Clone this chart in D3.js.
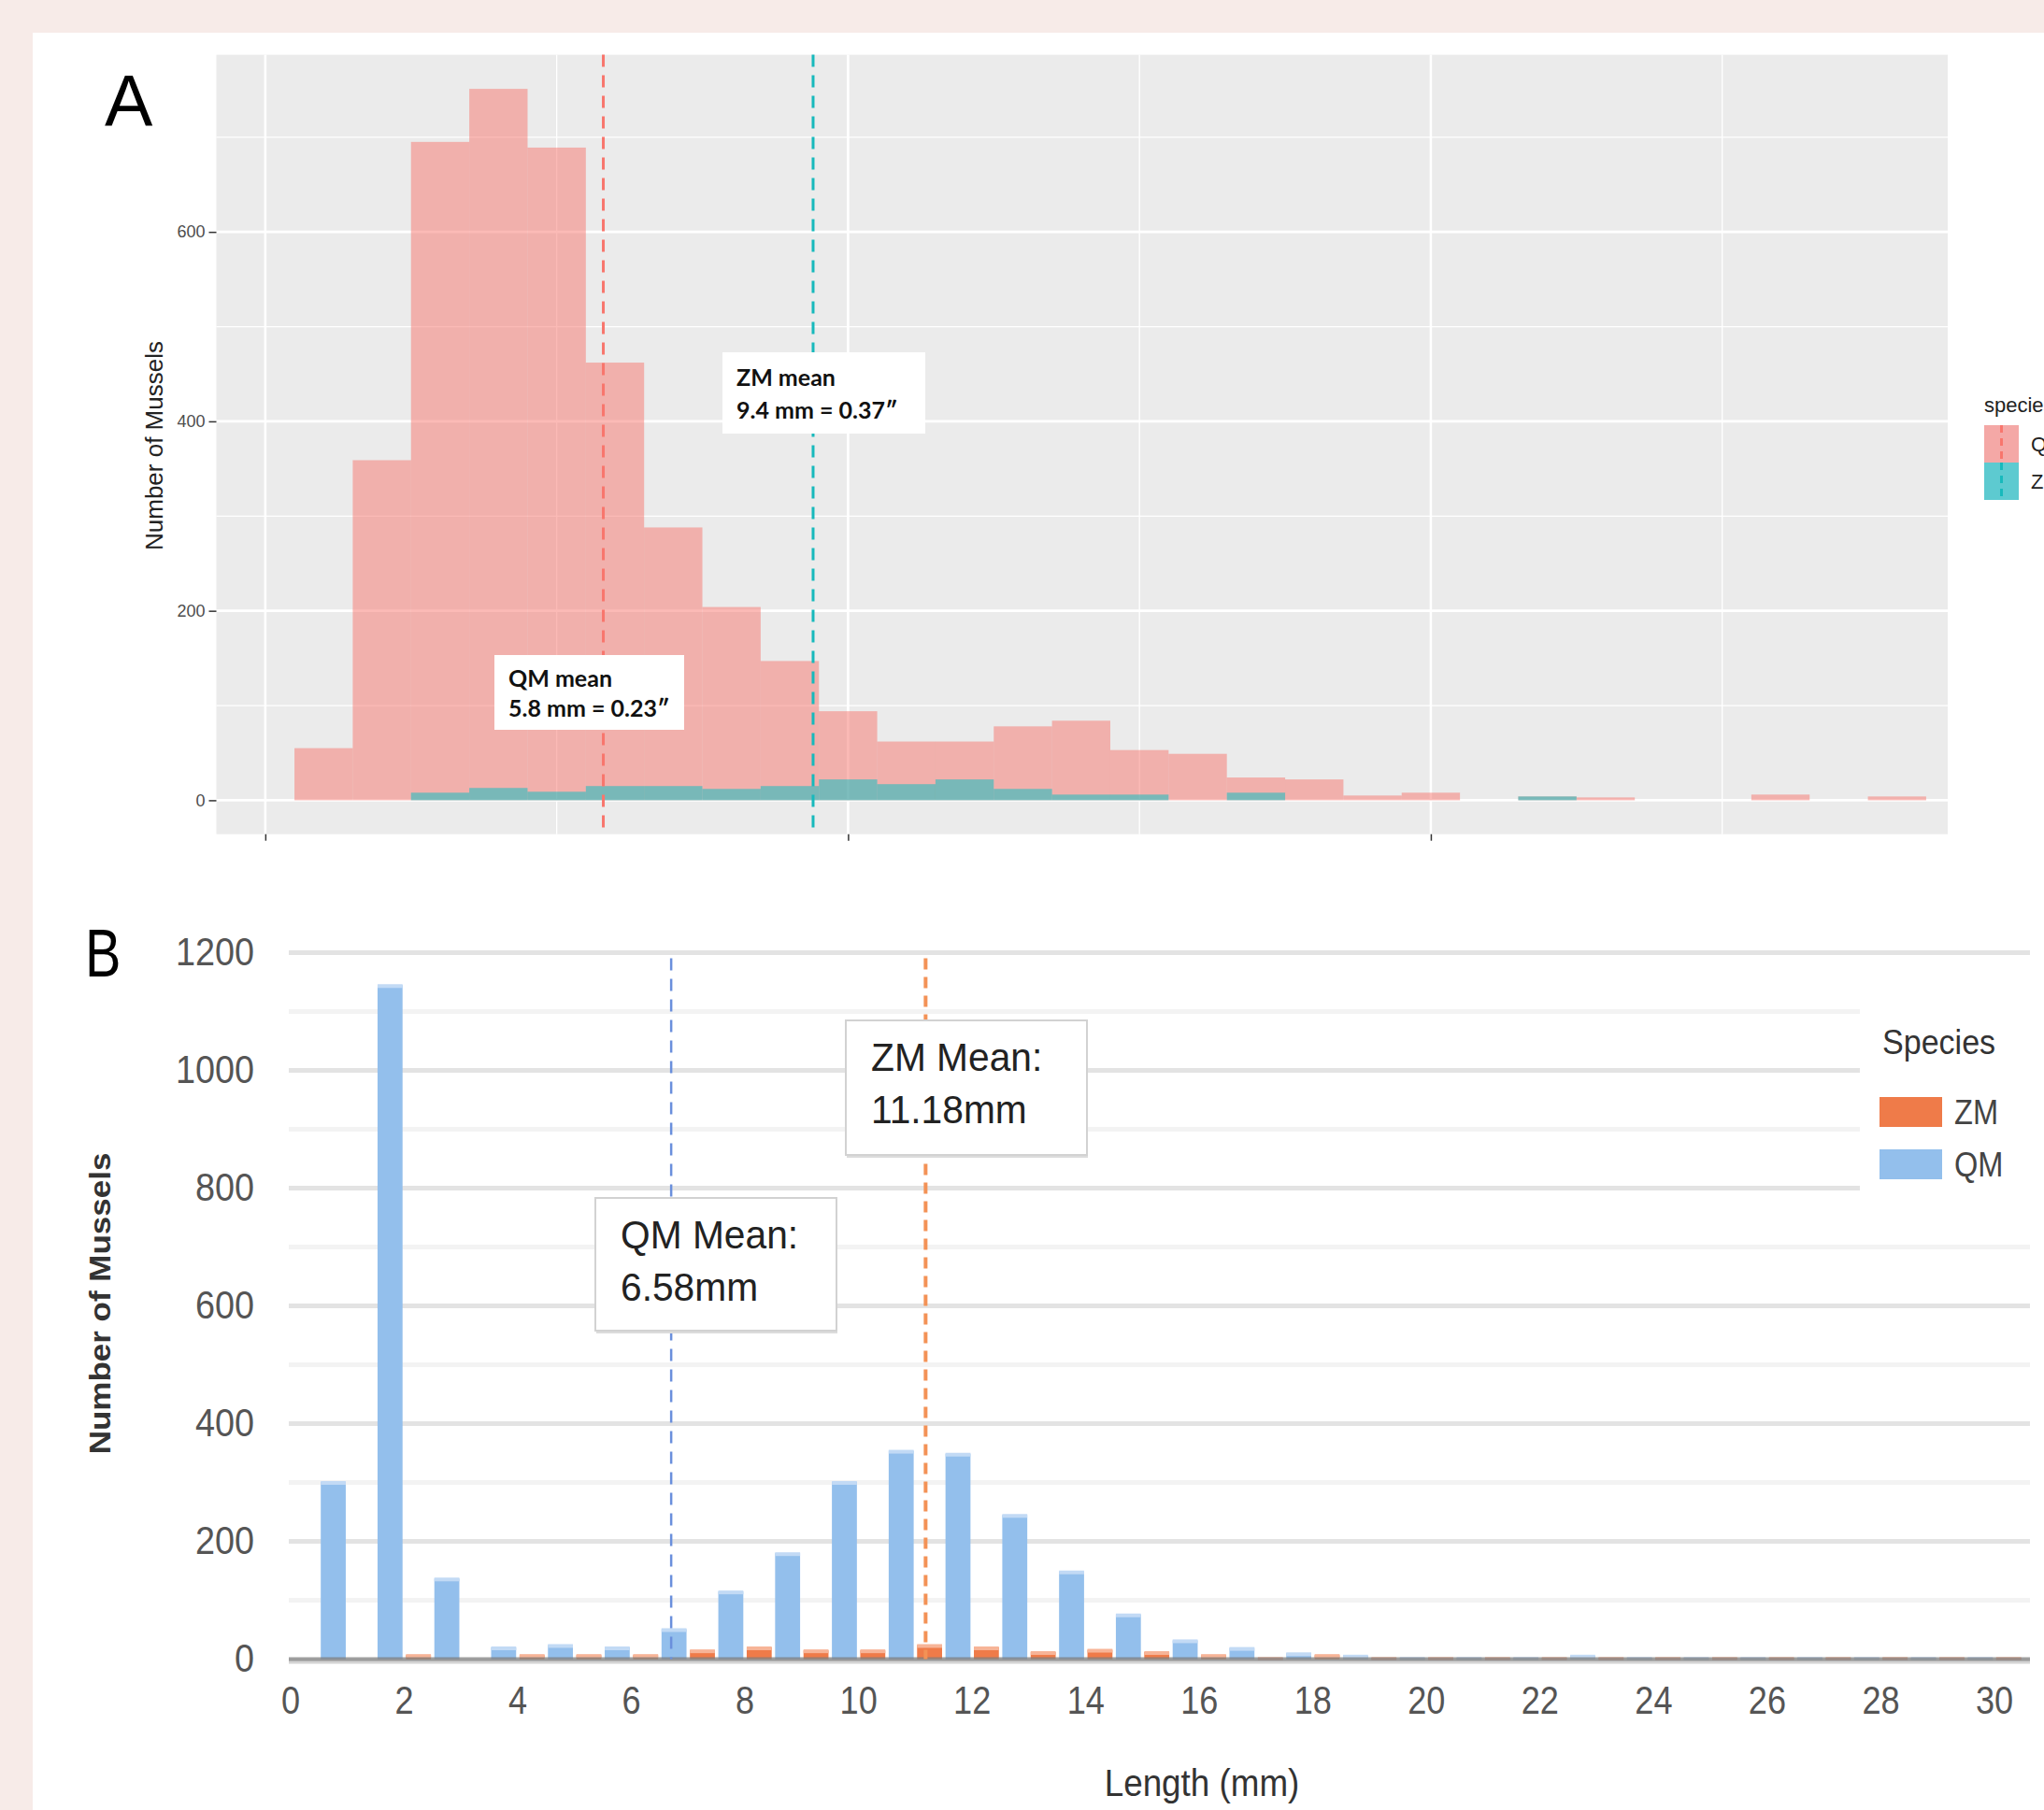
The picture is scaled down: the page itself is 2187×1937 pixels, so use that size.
<!DOCTYPE html>
<html>
<head>
<meta charset="utf-8">
<script src="https://cdn.jsdelivr.net/npm/d3@7"></script>
<style>
  body { margin: 0; background: #f7ebe8; }
  svg { display: block; }
</style>
</head>
<body>
<div id="chart"></div>
<script>
// ---------- Panel A data (ggplot histogram, 1 mm bins) ----------
const binMidA = [1, 2, 3, 4, 5, 6, 7, 8, 9, 10, 11, 12, 13, 14, 15, 16, 17, 18, 19, 20, 21, 22, 23, 24, 25, 26, 27, 28];
const qmCountA = [55, 359, 695, 751, 689, 462, 288, 204, 147, 94, 62, 62, 78, 84, 53, 49, 24, 22, 5, 8, 0, 4, 3, 0, 0, 6, 0, 4];
const zmCountA = [0, 0, 8, 13, 9, 15, 15, 12, 15, 22, 17, 22, 12, 6, 6, 0, 8, 0, 0, 0, 0, 4, 0, 0, 0, 0, 0, 0];
const yTicksA = [0, 200, 400, 600];
const yMinorA = [100, 300, 500, 700];
const xTicksA = [0, 10, 20];
const xMinorA = [5, 15, 25];
const qmMeanA = 5.8, zmMeanA = 9.4;

// ---------- Panel B data (grouped column chart) ----------
const lengthB = [1, 2, 3, 4, 5, 6, 7, 8, 9, 10, 11, 12, 13, 14, 15, 16, 17, 18, 19, 20, 21, 22, 23, 24, 25, 26, 27, 28, 29, 30];
const qmCountB = [301, 1145, 137, 20, 24, 20, 51, 115, 180, 301, 354, 349, 245, 149, 76, 32, 19, 10, 6, 2, 2, 2, 6, 2, 2, 2, 2, 2, 2, 2];
const zmCountB = [0, 7, 0, 7, 7, 7, 15, 20, 15, 15, 24, 20, 12, 16, 12, 7, 2, 7, 2, 2, 2, 2, 2, 2, 2, 2, 2, 2, 2, 2];
const yTicksB = [0, 200, 400, 600, 800, 1000, 1200];
const yMinorB = [100, 300, 500, 700, 900, 1100];
const xTicksB = [0, 2, 4, 6, 8, 10, 12, 14, 16, 18, 20, 22, 24, 26, 28, 30];
const qmMeanLineB = 6.7, zmMeanLineB = 11.18;

const W = 2187, H = 1937;
const FONT = "'Liberation Sans', Arial, sans-serif";

const svg = d3.select("#chart").append("svg")
    .attr("width", W)
    .attr("height", H);

// page background + white sheet
svg.append("rect").attr("width", W).attr("height", H).attr("fill", "#f7ebe8");
svg.append("rect").attr("x", 35).attr("y", 35).attr("width", W - 35).attr("height", H - 35).attr("fill", "#ffffff");

// text helper: squeezed horizontally like the stretched screenshot
function sqText(g, x, y, str, size, sx, anchor) {
  return g.append("text")
    .attr("transform", `translate(${x},${y}) scale(${sx},1)`)
    .attr("text-anchor", anchor || "start")
    .attr("dominant-baseline", "central")
    .style("font-family", FONT)
    .style("font-size", size + "px")
    .text(str);
}

// =================== PANEL A ===================
const gA = svg.append("g");
const xA = d3.scaleLinear().domain([-0.84, 28.87]).range([231.5, 2084]);
const yA = d3.scaleLinear().domain([-35.8, 787]).range([892.7, 58.6]);

gA.append("rect")
    .attr("x", xA.range()[0]).attr("y", yA.range()[1])
    .attr("width", xA.range()[1] - xA.range()[0])
    .attr("height", yA.range()[0] - yA.range()[1])
    .attr("fill", "#ebebeb");

// grid
gA.selectAll("line.hminor").data(yMinorA).enter().append("line")
    .attr("x1", xA.range()[0]).attr("x2", xA.range()[1])
    .attr("y1", d => yA(d)).attr("y2", d => yA(d))
    .attr("stroke", "#fff").attr("stroke-width", 1.3);
gA.selectAll("line.hmajor").data(yTicksA).enter().append("line")
    .attr("x1", xA.range()[0]).attr("x2", xA.range()[1])
    .attr("y1", d => yA(d)).attr("y2", d => yA(d))
    .attr("stroke", "#fff").attr("stroke-width", 2.6);
gA.selectAll("line.vminor").data(xMinorA).enter().append("line")
    .attr("x1", d => xA(d)).attr("x2", d => xA(d))
    .attr("y1", yA.range()[0]).attr("y2", yA.range()[1])
    .attr("stroke", "#fff").attr("stroke-width", 1.3);
gA.selectAll("line.vmajor").data(xTicksA).enter().append("line")
    .attr("x1", d => xA(d)).attr("x2", d => xA(d))
    .attr("y1", yA.range()[0]).attr("y2", yA.range()[1])
    .attr("stroke", "#fff").attr("stroke-width", 2.6);

// bars (overlaid with alpha, ZM drawn over QM)
const binsA = binMidA.map((m, i) => ({m: m, qm: qmCountA[i], zm: zmCountA[i]}));
function drawBinsA(key, color) {
  gA.selectAll("rect.bar-" + key)
    .data(binsA.filter(d => d[key] > 0))
    .enter().append("rect")
      .attr("class", "bar-" + key)
      .attr("x", d => xA(d.m - 0.5))
      .attr("width", d => xA(d.m + 0.5) - xA(d.m - 0.5))
      .attr("y", d => yA(d[key]))
      .attr("height", d => yA(0) - yA(d[key]))
      .attr("fill", color)
      .attr("fill-opacity", 0.5);
}
drawBinsA("qm", "#F8766D");
drawBinsA("zm", "#00BFC4");

// mean lines
[[qmMeanA, "#F8766D"], [zmMeanA, "#17B9BC"]].forEach(([v, c]) => {
  gA.append("line")
    .attr("x1", xA(v)).attr("x2", xA(v))
    .attr("y1", yA.range()[1]).attr("y2", yA.range()[0])
    .attr("stroke", c).attr("stroke-width", 3)
    .attr("stroke-dasharray", "13,9");
});

// annotation boxes
const notesA = [
  {x: 773, y: 377, w: 217, h: 87, lines: ["ZM mean", "9.4 mm = 0.37\u2033"]},
  {x: 529, y: 701, w: 203, h: 80, lines: ["QM mean", "5.8 mm = 0.23\u2033"]}
];
notesA.forEach(n => {
  gA.append("rect").attr("x", n.x).attr("y", n.y).attr("width", n.w).attr("height", n.h).attr("fill", "#fff");
  n.lines.forEach((t, i) => {
    gA.append("text")
      .attr("x", n.x + 15)
      .attr("y", n.y + n.h * (i === 0 ? 0.3 : 0.7))
      .attr("dominant-baseline", "central")
      .style("font-family", "Lato, 'Open Sans', sans-serif")
      .style("font-weight", "bold")
      .style("font-size", "25px")
      .style("fill", "#111")
      .text(t);
  });
});

// axes
const axA = gA.append("g")
    .attr("transform", `translate(${xA.range()[0]},0)`)
    .call(d3.axisLeft(yA).tickValues(yTicksA).tickSize(8).tickPadding(4));
axA.select(".domain").remove();
axA.selectAll("line").attr("stroke", "#333").attr("stroke-width", 1.5);
axA.selectAll("text").style("font-family", FONT).style("font-size", "18px").attr("fill", "#4d4d4d");

const bxA = gA.append("g")
    .attr("transform", `translate(0,${yA.range()[0]})`)
    .call(d3.axisBottom(xA).tickValues(xTicksA).tickSize(7).tickFormat(""));
bxA.select(".domain").remove();
bxA.selectAll("line").attr("stroke", "#333").attr("stroke-width", 1.5);

gA.append("text")
    .attr("transform", "translate(165,477) rotate(-90)")
    .attr("text-anchor", "middle")
    .attr("dominant-baseline", "central")
    .style("font-family", FONT).style("font-size", "26px").style("fill", "#222")
    .text("Number of Mussels");

gA.append("text")
    .attr("x", 112).attr("y", 135)
    .style("font-family", FONT).style("font-size", "77px").style("fill", "#000")
    .text("A");

// legend A (cut at the right edge, as in the source)
const legA = gA.append("g").attr("transform", "translate(2123,0)");
legA.append("text").attr("x", 0).attr("y", 433).attr("dominant-baseline", "central")
    .style("font-family", FONT).style("font-size", "22px").style("fill", "#222").text("species");
[["QM", "#F4A8A6", "#F8766D"], ["ZM", "#5DCAD0", "#17B9BC"]].forEach(([name, fill, line], i) => {
  const y0 = 455 + i * 40;
  legA.append("rect").attr("x", 0).attr("y", y0).attr("width", 37).attr("height", 40).attr("fill", fill);
  legA.append("line").attr("x1", 18.5).attr("x2", 18.5).attr("y1", y0).attr("y2", y0 + 40)
      .attr("stroke", line).attr("stroke-width", 3).attr("stroke-dasharray", "8,6");
  legA.append("text").attr("x", 50).attr("y", y0 + 20).attr("dominant-baseline", "central")
      .style("font-family", FONT).style("font-size", "22px").style("fill", "#222").text(name);
});

// =================== PANEL B ===================
const gB = svg.append("g");
const xB = d3.scaleLinear().domain([0, 30]).range([311, 2134]);
const yB = d3.scaleLinear().domain([0, 1200]).range([1775.6, 1019.6]);
const sub = d3.scaleBand().domain(["QM", "ZM"]).range([-0.5, 0.5]).paddingInner(0.12).paddingOuter(0.06);
const colorB = {QM: "#93BFEC", ZM: "#EF7B49"};
const capB = {QM: "#C2DAF5", ZM: "#F7B497"};
const gridX0 = 309, gridX1 = 2172;

gB.selectAll("line.minor").data(yMinorB).enter().append("line")
    .attr("x1", gridX0).attr("x2", gridX1)
    .attr("y1", d => yB(d)).attr("y2", d => yB(d))
    .attr("stroke", "#f3f3f3").attr("stroke-width", 5);
gB.selectAll("line.major").data(yTicksB.filter(d => d > 0)).enter().append("line")
    .attr("x1", gridX0).attr("x2", gridX1)
    .attr("y1", d => yB(d)).attr("y2", d => yB(d))
    .attr("stroke", "#e3e3e3").attr("stroke-width", 5);

// bars
const rowsB = lengthB.map((c, i) => ({c: c, QM: qmCountB[i], ZM: zmCountB[i]}));
const barsB = [];
rowsB.forEach(r => ["QM", "ZM"].forEach(k => { if (r[k] > 0) barsB.push({c: r.c, k: k, v: r[k]}); }));
const bw = xB(sub.bandwidth()) - xB(0);

gB.selectAll("rect.barB").data(barsB).enter().append("rect")
    .attr("x", d => xB(d.c + sub(d.k)))
    .attr("width", bw)
    .attr("y", d => yB(d.v))
    .attr("height", d => yB(0) - yB(d.v))
    .attr("fill", d => colorB[d.k]);
gB.selectAll("rect.capB").data(barsB).enter().append("rect")
    .attr("x", d => xB(d.c + sub(d.k)))
    .attr("width", bw)
    .attr("y", d => yB(d.v) - 1)
    .attr("height", 4)
    .attr("fill", d => capB[d.k]);

// baseline
gB.append("line")
    .attr("x1", gridX0).attr("x2", gridX1)
    .attr("y1", yB(0) + 3).attr("y2", yB(0) + 3)
    .attr("stroke", "#d4d4d4").attr("stroke-width", 4);
gB.append("line")
    .attr("x1", gridX0).attr("x2", gridX1)
    .attr("y1", yB(0)).attr("y2", yB(0))
    .attr("stroke", "#7d7d7d").attr("stroke-opacity", 0.75).attr("stroke-width", 4);

// mean lines
gB.append("line")
    .attr("x1", xB(qmMeanLineB)).attr("x2", xB(qmMeanLineB))
    .attr("y1", yB(1200) + 6).attr("y2", yB(0))
    .attr("stroke", "#6a8fdc").attr("stroke-width", 2.5).attr("stroke-dasharray", "13,9");
gB.append("line")
    .attr("x1", xB(zmMeanLineB)).attr("x2", xB(zmMeanLineB))
    .attr("y1", yB(1200) + 6).attr("y2", yB(0))
    .attr("stroke", "#F39256").attr("stroke-width", 4).attr("stroke-dasharray", "12,8");

// annotation boxes
const notesB = [
  {x: 905, y: 1092, w: 258, h: 144, lines: ["ZM Mean:", "11.18mm"]},
  {x: 637, y: 1282, w: 258, h: 142, lines: ["QM Mean:", "6.58mm"]}
];
notesB.forEach(n => {
  gB.append("rect").attr("x", n.x + 1).attr("y", n.y + 3).attr("width", n.w).attr("height", n.h).attr("fill", "#dcdcdc");
  gB.append("rect").attr("x", n.x).attr("y", n.y).attr("width", n.w).attr("height", n.h)
      .attr("fill", "#fff").attr("stroke", "#d2d2d2").attr("stroke-width", 2);
  n.lines.forEach((t, i) => {
    sqText(gB, n.x + 27, n.y + 40 + i * 56, t, 42, 0.97).style("fill", "#222");
  });
});

// y tick labels
yTicksB.forEach(v => {
  sqText(gB, 272, yB(v) - 1, String(v), 42, 0.9, "end").style("fill", "#555");
});
// x tick labels
xTicksB.forEach(v => {
  sqText(gB, xB(v), 1820, String(v), 42, 0.86, "middle").style("fill", "#555");
});

sqText(gB, 1286, 1908, "Length (mm)", 40, 0.92, "middle").style("fill", "#333");

gB.append("text")
    .attr("transform", "translate(107,1395) rotate(-90) scale(1,0.9)")
    .attr("text-anchor", "middle")
    .attr("dominant-baseline", "central")
    .style("font-family", FONT).style("font-size", "35px").style("font-weight", "bold").style("fill", "#333")
    .text("Number of Mussels");

sqText(gB, 91, 1020, "B", 72, 0.8).style("fill", "#000");

// legend B (white plate hides the gridlines behind it)
gB.append("rect").attr("x", 1990).attr("y", 1050).attr("width", W - 1990).attr("height", 250).attr("fill", "#fff");
sqText(gB, 2014, 1116, "Species", 37, 0.92).style("fill", "#333");
["ZM", "QM"].forEach((k, i) => {
  gB.append("rect").attr("x", 2011).attr("y", 1174 + i * 56).attr("width", 67).attr("height", 32).attr("fill", colorB[k]);
  sqText(gB, 2091, 1190 + i * 56, k, 37, 0.88).style("fill", "#444");
});
</script>
</body>
</html>
